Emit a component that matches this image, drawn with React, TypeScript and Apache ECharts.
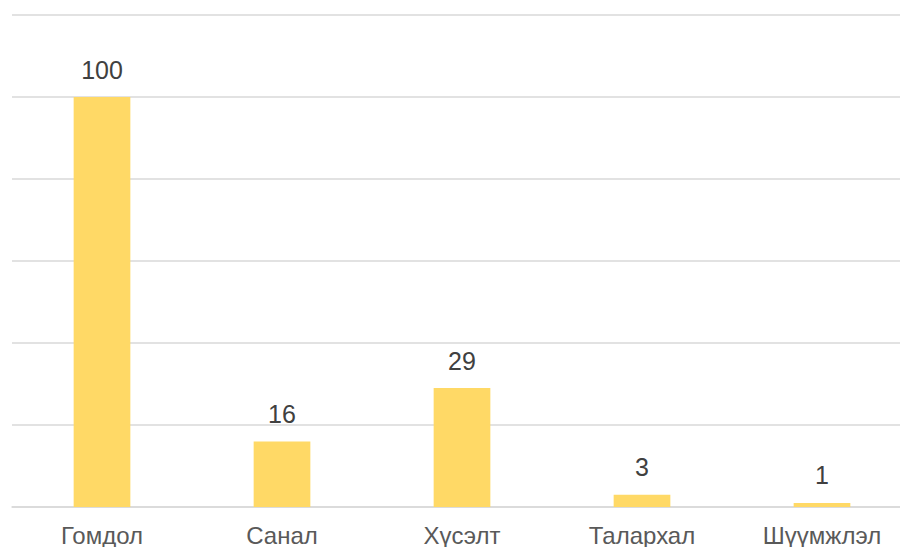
import React, { useEffect, useRef } from "react";
import * as echarts from "echarts";

const categories = ["Гомдол", "Санал", "Хүсэлт", "Талархал", "Шүүмжлэл"];
const values = [100, 16, 29, 3, 1];
const yMin = 0;
const yMax = 120;
const yInterval = 20;

export default function App() {
  const ref = useRef<HTMLDivElement>(null);
  useEffect(() => {
    if (!ref.current) return;
    const chart = echarts.init(ref.current, undefined, { renderer: "svg" });
    chart.setOption({
      animation: false,
      grid: { left: 4, right: 0, top: 7, bottom: 40, containLabel: false },
      xAxis: {
        type: "category",
        data: categories,
        axisTick: { show: false },
        axisLine: { show: true, lineStyle: { color: "#D9D9D9", width: 1.5 } },
        axisLabel: {
          color: "#595959",
          fontSize: 24,
          fontFamily: "Liberation Sans, Arial, sans-serif",
          margin: 16,
        },
      },
      yAxis: {
        type: "value",
        min: yMin,
        max: yMax,
        interval: yInterval,
        axisLabel: { show: false },
        axisLine: { show: false },
        axisTick: { show: false },
        splitLine: { lineStyle: { color: "#D9D9D9", width: 1.5 } },
      },
      series: [
        {
          type: "bar",
          data: values,
          barWidth: "31.5%",
          itemStyle: { color: "#FFD966" },
          label: {
            show: true,
            position: "top",
            distance: 15,
            color: "#404040",
            fontSize: 25,
            fontFamily: "Liberation Sans, Arial, sans-serif",
          },
        },
      ],
    });
    return () => chart.dispose();
  }, []);
  return <div ref={ref} style={{ width: 904, height: 539 }} />;
}
